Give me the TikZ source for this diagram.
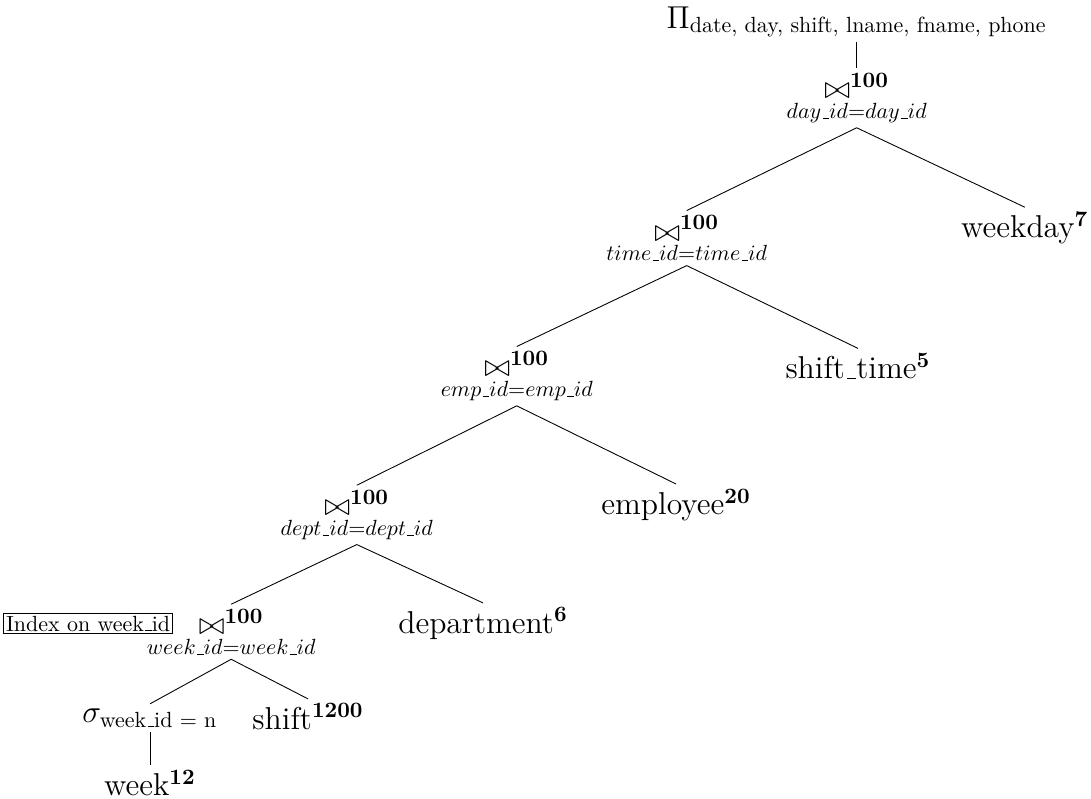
\documentclass[tikz,border=0pt]{standalone}
\usepackage{amsmath}
\usepackage{tikz}
\usetikzlibrary{positioning}
\newcommand{\us}{\leavevmode\kern.06em\vbox{\hrule width.3em}}
\newcommand{\jn}[1]{{\Large$\bowtie^{\mathbf{100}}$}\\[-3pt]$#1$}
\newcommand{\rel}[2]{\Large #1$^{\mathbf{#2}}$}

\begin{document}
\begin{tikzpicture}
        \useasboundingbox (0,0) rectangle (17.46,-12.78);
        \tikzset{every node/.style={align=center,inner sep=2pt}}
        \node (proj) at (13.71,-0.35) {\Large $\Pi_{\text{date, day, shift, lname, fname, phone}}$};
        \node (j1) at (13.71,-1.57) {\jn{day\us id{=}day\us id}};
        \node (wday) at (16.40,-3.65) {\rel{weekday}{7}};
        \node (j2) at (10.99,-3.81) {\jn{time\us id{=}time\us id}};
        \node (stime) at (13.73,-5.86) {\rel{shift\us time}{5}};
        \node (j3) at (8.27,-6.02) {\jn{emp\us id{=}emp\us id}};
        \node (emp) at (10.82,-8.08) {\rel{employee}{20}};
        \node (j4) at (5.71,-8.24) {\jn{dept\us id{=}dept\us id}};
        \node (dept) at (7.73,-9.98) {\rel{department}{6}};
        \node (j5) at (3.70,-10.11) {\jn{week\us id{=}week\us id}};
        \node (sel) at (2.40,-11.49) {\Large $\sigma_{\text{week\us id = n}}$};
        \node (shift) at (4.93,-11.47) {\rel{shift}{1200}};
        \node (week) at (2.40,-12.53) {\rel{week}{12}};
        \node[draw,inner sep=1pt] (idx) at (1.41,-9.98) {Index on week\us id};
        % tree edges
        \draw (proj.south) -- (j1.north);
        \draw (j1.south) -- (j2.north);
        \draw (j1.south) -- (wday.north);
        \draw (j2.south) -- (j3.north);
        \draw (j2.south) -- (stime.north);
        \draw (j3.south) -- (j4.north);
        \draw (j3.south) -- (emp.north);
        \draw (j4.south) -- (j5.north);
        \draw (j4.south) -- (dept.north);
        \draw (j5.south) -- (sel.north);
        \draw (j5.south) -- (shift.north);
        \draw (sel.south) -- (week.north);
      \end{tikzpicture}
\end{document}
